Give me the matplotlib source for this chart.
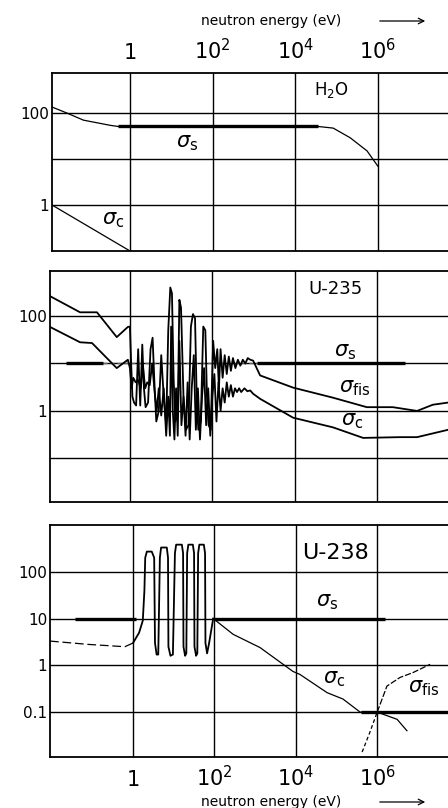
import numpy as np
import matplotlib.pyplot as plt
from matplotlib.patches import FancyArrowPatch

plt.rcParams["font.family"] = ["DejaVu Sans"]
plt.rcParams["mathtext.fontset"] = "dejavusans"

# ---- H2O (log10 of energy in eV, cross section in barn)
h2o_s_logE = [-1.89, -1.53, -1.13, -0.48, -0.29, 4.55, 4.92, 5.33, 5.74, 6.0]
h2o_s = [135, 100, 70, 54, 51, 51, 47, 29, 15, 7]
h2o_s_thick = [-0.29, 4.55]  # plateau drawn heavy
h2o_c_logE = [-1.89, 0.0]
h2o_c = [1.0, 0.1]

# ---- U-235
u235_fis_logE = [-1.94, -1.21, -0.80, -0.32, -0.05, 0.00, 0.03, 0.06, 0.10, 0.15,
                 0.20, 0.25, 0.30, 0.34, 0.38, 0.44, 0.50, 0.55, 0.60, 0.64,
                 0.70, 0.76, 0.82, 0.88, 0.93, 0.98, 1.02, 1.06, 1.10, 1.16,
                 1.20, 1.24, 1.30, 1.36, 1.42, 1.48, 1.53, 1.58, 1.62, 1.66,
                 1.72, 1.78, 1.83, 1.87, 1.91, 1.96, 2.02, 2.07, 2.12, 2.16,
                 2.20, 2.25, 2.30, 2.35, 2.40, 2.45, 2.50, 2.56, 2.62, 2.68,
                 2.74, 2.80, 2.86, 2.92, 2.99, 3.16, 3.96, 4.93, 5.75, 6.38,
                 6.97, 7.35, 7.72]
u235_fis = [263, 120, 120, 36, 59, 60, 10, 2, 1.5, 1.3,
            20, 1.3, 25, 3, 1.2, 1.5, 20, 35, 3, 0.6,
            1.0, 15, 2, 0.5, 50, 400, 300, 5, 0.6, 0.8,
            220, 150, 2, 0.4, 0.5, 60, 110, 90, 2, 0.4,
            0.6, 60, 50, 2, 0.5, 0.4, 30, 8, 20, 3,
            20, 5, 15, 6, 14, 7, 13, 8, 12, 9,
            12, 10, 13, 12, 11.5, 5.6, 3.1, 1.9, 1.2, 1.2,
            1.0, 1.35, 1.5]
u235_c_logE = [-1.94, -1.21, -0.92, -0.32, -0.05, 0.00, 0.04, 0.08, 0.14, 0.20,
               0.26, 0.32, 0.37, 0.42, 0.48, 0.54, 0.60, 0.65, 0.70, 0.76,
               0.82, 0.88, 0.93, 0.97, 1.00, 1.04, 1.08, 1.12, 1.16, 1.20,
               1.25, 1.30, 1.35, 1.40, 1.45, 1.50, 1.55, 1.60, 1.65, 1.70,
               1.75, 1.80, 1.85, 1.90, 1.95, 2.00, 2.05, 2.10, 2.15, 2.20,
               2.25, 2.30, 2.35, 2.40, 2.45, 2.50, 2.55, 2.60, 2.65, 2.70,
               2.78, 2.85, 2.92, 2.99, 3.16, 3.96, 4.93, 5.66, 6.55, 6.97,
               7.72]
u235_c = [59, 28, 27, 8, 12, 8, 3, 5, 4, 4.5,
          3, 8, 3, 4, 3.5, 10, 2.5, 1, 3, 0.8,
          3, 0.3, 2, 0.3, 60, 1, 0.25, 3, 0.3, 30,
          0.5, 2, 0.3, 4, 0.25, 3, 15, 0.4, 3, 0.25,
          2, 8, 0.5, 3, 0.3, 2, 6, 0.6, 4, 1,
          3, 1.5, 4, 2, 3.5, 2, 3, 2.5, 3, 2.5,
          3, 2.6, 2.7, 2.3, 1.8, 0.72, 0.45, 0.27, 0.28, 0.28,
          0.4]
u235_s = 10
u235_s_heavy = [(-1.55, -0.66), (3.08, 6.67)]
u235_s_light = (-0.66, 3.08)

# ---- U-238
u238_c_logE = [-2.04, -1.10, -0.20, 0.00, 0.15, 0.24,
               0.28, 0.30, 0.34, 0.46, 0.52, 0.54, 0.58, 0.62,
               0.66, 0.69, 0.83, 0.86, 0.87, 0.92, 0.98,
               1.03, 1.06, 1.20, 1.23, 1.24, 1.28, 1.31,
               1.33, 1.36, 1.47, 1.50, 1.51, 1.55, 1.58,
               1.60, 1.63, 1.74, 1.77, 1.78, 1.82, 1.87, 1.97,
               2.46, 3.12, 3.93, 4.10, 4.77, 5.16, 5.58, 6.00, 6.49, 6.73]
u238_c = [3.3, 2.8, 2.5, 3.0, 5, 9,
          40, 200, 270, 270, 200, 3, 1.7, 1.7,
          200, 330, 330, 200, 2.5, 1.6, 1.7,
          250, 380, 380, 250, 2.5, 1.6, 1.8,
          250, 380, 380, 250, 2.5, 1.6, 1.8,
          250, 380, 380, 250, 3, 1.8, 3, 10,
          4.6, 2.4, 0.74, 0.64, 0.26, 0.19, 0.1, 0.1, 0.07, 0.04]
u238_fis_logE = [5.63, 5.82, 6.0, 6.24, 6.56, 6.88, 7.3]
u238_fis = [0.014, 0.037, 0.1, 0.36, 0.55, 0.7, 1.05]
u238_s_segments = [(-1.43, 0.08), (2.0, 6.2)]
u238_s = 10
u238_fis_thick = [5.6, 7.74]
u238_fis_level = 0.1

W, H = 448, 808
fig = plt.figure(figsize=(W / 100, H / 100), dpi=100)


def make_axes(left, top, bottom, xlog, ylog):
    ax = fig.add_axes([left / W, 1 - bottom / H, 1 - left / W, (bottom - top) / H])
    ax.set_xscale("log")
    ax.set_yscale("log")
    ax.set_xlim(10 ** xlog[0], 10 ** xlog[1])
    ax.set_ylim(10 ** ylog[0], 10 ** ylog[1])
    ax.set_xticks([1, 1e2, 1e4, 1e6])
    ax.set_xticks([], minor=True)
    ax.set_yticks([], minor=True)
    ax.tick_params(length=0, labelsize=11, pad=2)
    ax.spines["right"].set_visible(False)
    for s in ["left", "top", "bottom"]:
        ax.spines[s].set_linewidth(1.3)
    ax.grid(True, color="black", linewidth=1.0)
    return ax


def label(px, py, s, size=15, ha="center"):
    fig.text(px / W, 1 - py / H, s, fontsize=size, ha=ha, va="center")


xlabels = [r"$1$", r"$10^2$", r"$10^4$", r"$10^6$"]
thin = dict(color="black", linewidth=0.9)
res = dict(color="black", linewidth=1.3)
heavy = dict(color="black", linewidth=2.4, solid_capstyle="butt")

# ---- panel 1: H2O
ax1 = make_axes(52, 73, 251, (-1.89, 7.70), (-1.0, 2.87))
ax1.set_yticks([100, 10, 1])
ax1.set_yticklabels(["100", "", "1"])
ax1.xaxis.tick_top()
ax1.set_xticklabels(xlabels, fontsize=15)
ax1.tick_params(axis="x", pad=7)
ax1.plot(10 ** np.array(h2o_s_logE), h2o_s, **thin)
ax1.plot(10 ** np.array(h2o_s_thick), [h2o_s[4], h2o_s[5]], **heavy)
ax1.plot(10 ** np.array(h2o_c_logE), h2o_c, **thin)
label(187, 143, r"$\sigma_{\rm s}$")
label(113, 220, r"$\sigma_{\rm c}$")
label(331, 90, r"H$_2$O", size=12)

# ---- panel 2: U-235
ax2 = make_axes(50, 271, 502, (-1.94, 7.72), (-1.92, 2.95))
ax2.set_yticks([100, 10, 1, 0.1])
ax2.set_yticklabels(["100", "", "1", ""])
ax2.set_xticklabels([])
for a, b in u235_s_heavy:
    ax2.plot([10 ** a, 10 ** b], [u235_s, u235_s], **heavy)
ax2.plot([10 ** u235_s_light[0], 10 ** u235_s_light[1]], [u235_s, u235_s],
         color="0.4", linewidth=1.0, linestyle=(0, (3, 2)))
ax2.plot(10 ** np.array(u235_fis_logE), u235_fis, **res)
ax2.plot(10 ** np.array(u235_c_logE), u235_c, **res)
label(335, 289, "U-235", size=13)
label(345, 352, r"$\sigma_{\rm s}$")
label(355, 388, r"$\sigma_{\rm fis}$")
label(352, 421, r"$\sigma_{\rm c}$")

# ---- panel 3: U-238
ax3 = make_axes(50, 525, 757, (-2.04, 7.74), (-1.96, 3.0))
ax3.set_yticks([100, 10, 1, 0.1])
ax3.set_yticklabels(["100", "10", "1", "0.1"])
ax3.set_xticklabels(xlabels, fontsize=15, va="baseline")
ax3.tick_params(axis="x", pad=21)
for a, b in u238_s_segments:
    ax3.plot([10 ** a, 10 ** b], [u238_s, u238_s], **heavy)
ax3.plot(10 ** np.array(u238_fis_thick), [u238_fis_level] * 2, **heavy)
c_logE = np.array(u238_c_logE)
c_val = np.array(u238_c)
low = c_logE <= 0.0
mid = (c_logE >= 0.0) & (c_logE <= 1.97)
high = c_logE >= 1.97
ax3.plot(10 ** c_logE[low], c_val[low], color="black", linewidth=0.9,
         linestyle=(0, (7, 3)))
ax3.plot(10 ** c_logE[mid], c_val[mid], **res)
ax3.plot(10 ** c_logE[high], c_val[high], **thin)
ax3.plot(10 ** np.array(u238_fis_logE[:3]), u238_fis[:3], color="black",
         linewidth=0.9, linestyle=(0, (3, 2)))
ax3.plot(10 ** np.array(u238_fis_logE[2:]), u238_fis[2:], color="black",
         linewidth=0.9, linestyle=(0, (5, 1.5)))
label(335, 553, "U-238", size=16)
label(327, 602, r"$\sigma_{\rm s}$")
label(334, 679, r"$\sigma_{\rm c}$")
label(408, 688, r"$\sigma_{\rm fis}$", ha="left")

# ---- energy axis captions
for ypix in (21, 802):
    yy = 1 - ypix / H
    fig.text(271 / W, yy, "neutron energy (eV)", fontsize=10,
             ha="center", va="center")
    fig.patches.append(FancyArrowPatch(
        (377 / W, yy), (428 / W, yy), transform=fig.transFigure,
        arrowstyle="->", mutation_scale=10, color="black", linewidth=0.9))

fig.savefig("out.png", dpi=100)
